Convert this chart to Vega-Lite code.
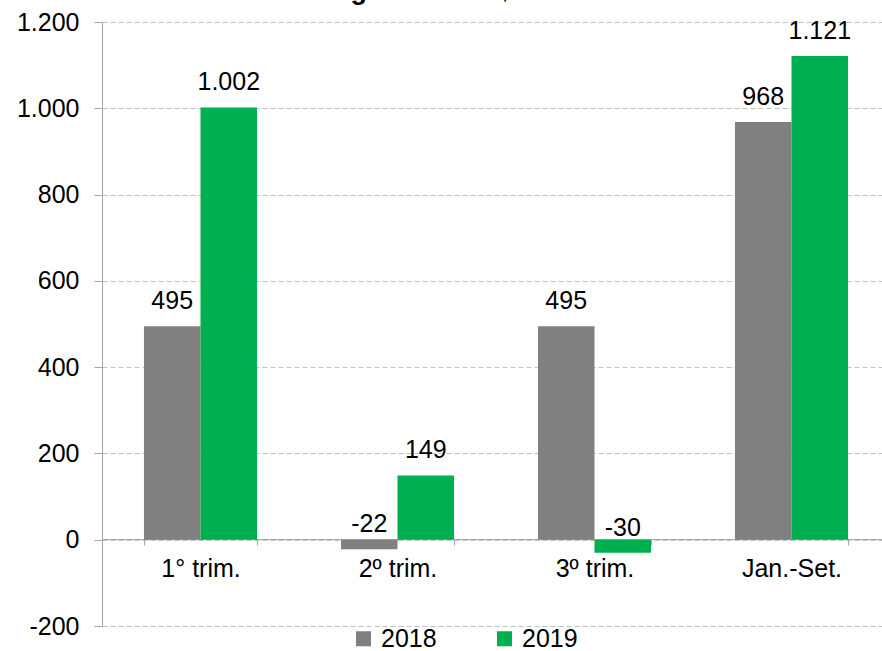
{
  "$schema": "https://vega.github.io/schema/vega-lite/v6.json",
  "width": 788,
  "height": 604,
  "autosize": {"type": "none"},
  "padding": {"left": 102, "top": 22, "right": 0, "bottom": 25},
  "title": {"text": "agrícolas - R$", "fontSize": 27, "font": "Arial", "fontWeight": "bold", "anchor": "middle", "baseline": "alphabetic", "dx": -72, "dy": 16, "offset": 0, "color": "black"},
  "config": {
    "locale": {"number": {"decimal": ",", "thousands": ".", "grouping": [3], "currency": ["R$", ""], "minus": "-"}},
    "view": {"stroke": null},
    "font": "Arial"
  },
  "data": {
    "values": [
      {"cat": "1° trim.", "year": "2018", "value": 495},
      {"cat": "1° trim.", "year": "2019", "value": 1002},
      {"cat": "2º trim.", "year": "2018", "value": -22},
      {"cat": "2º trim.", "year": "2019", "value": 149},
      {"cat": "3º trim.", "year": "2018", "value": 495},
      {"cat": "3º trim.", "year": "2019", "value": -30},
      {"cat": "Jan.-Set.", "year": "2018", "value": 968},
      {"cat": "Jan.-Set.", "year": "2019", "value": 1121}
    ]
  },
  "encoding": {
    "x": {
      "field": "cat", "type": "nominal",
      "sort": ["1° trim.", "2º trim.", "3º trim.", "Jan.-Set."],
      "scale": {"paddingInner": 0.426, "paddingOuter": 0.213},
      "axis": {"title": null, "labelFontSize": 25, "labelColor": "black", "labelAngle": 0, "domainColor": "#a6a6a6", "tickColor": "#a6a6a6", "tickSize": 6, "tickBand": "extent", "offset": -87, "labelPadding": 11, "grid": false, "labelFont": "Arial"}
    },
    "xOffset": {"field": "year", "type": "nominal", "scale": {"paddingInner": 0}},
    "y": {
      "field": "value", "type": "quantitative",
      "scale": {"domain": [-200, 1200], "nice": false},
      "axis": {"title": null, "values": [-200, 0, 200, 400, 600, 800, 1000, 1200], "format": ",.0f", "labelFontSize": 25, "labelColor": "black", "labelFont": "Arial", "domainColor": "#a6a6a6", "tickColor": "#a6a6a6", "tickSize": 8, "labelPadding": 15, "grid": true, "gridColor": "#c0c0c0", "gridDash": [5, 3]}
    }
  },
  "layer": [
    {
      "mark": {"type": "bar"},
      "encoding": {
        "color": {
          "field": "year", "type": "nominal",
          "scale": {"domain": ["2018", "2019"], "range": ["#808080", "#00b050"]},
          "legend": {"orient": "none", "legendX": 249, "legendY": 604, "direction": "horizontal", "title": null, "symbolType": "square", "symbolSize": 225, "symbolStrokeWidth": 0, "labelFontSize": 25, "labelColor": "black", "labelFont": "Arial", "columnPadding": 55, "labelOffset": 5}
        }
      }
    },
    {
      "mark": {"type": "text", "dy": -25, "fontSize": 25, "baseline": "middle", "color": "black", "font": "Arial"},
      "encoding": {
        "text": {"field": "value", "type": "quantitative", "format": ",.0f"}
      }
    }
  ]
}
